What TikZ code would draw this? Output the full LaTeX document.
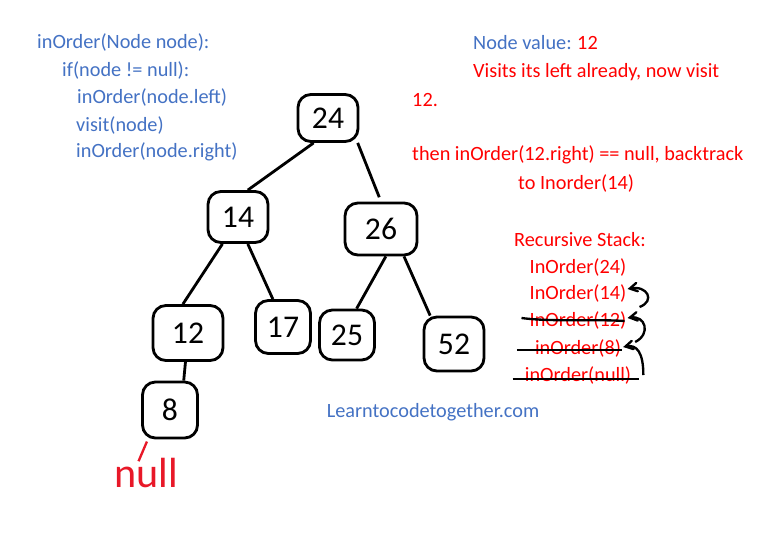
\documentclass[tikz,border=0pt]{standalone}
\usepackage{fontspec}
\setmainfont{Carlito}
\usetikzlibrary{arrows}
\definecolor{codeblue}{RGB}{68,114,196}
\definecolor{notered}{RGB}{255,0,0}
\definecolor{inkred}{RGB}{232,24,40}
\tikzstyle{treenode} = [draw,line width=2.4pt,rounded corners=11pt,inner sep=0pt,font=\fontsize{27}{27}\selectfont]
\tikzstyle{edge} = [line width=2.4pt]
\tikzstyle{code} = [anchor=west,inner sep=0pt,text=codeblue,font=\fontsize{17.3}{20}\selectfont]
\tikzstyle{note} = [anchor=west,inner sep=0pt,text=notered,font=\fontsize{17.3}{20}\selectfont]
\tikzstyle{stack} = [inner sep=0pt,text=notered,font=\fontsize{17.3}{20}\selectfont]
\tikzstyle{strike} = [line width=2pt]
\tikzstyle{back} = [line width=2pt,->,>=angle 60]

\begin{document}
\begin{tikzpicture}[x=0.03cm,y=-0.03cm]
        \fill[white] (0,0) rectangle (768,538);
        \useasboundingbox (0,0) rectangle (768,538);
        %pseudocode
        \node[code] (c1) at (37,42) {inOrder(Node node):};
        \node[code] (c2) at (62,70) {if(node != null):};
        \node[code] (c3) at (77,97) {inOrder(node.left)};
        \node[code] (c4) at (76,125) {visit(node)};
        \node[code] (c5) at (76,152) {inOrder(node.right)};
        %tree
        \node[treenode,minimum width=1.8cm,minimum height=1.41cm] (n24) at (328,118) {24};
        \node[treenode,minimum width=1.8cm,minimum height=1.53cm] (n14) at (238,217) {14};
        \node[treenode,minimum width=2.16cm,minimum height=1.56cm] (n26) at (381,229) {26};
        \node[treenode,minimum width=2.1cm,minimum height=1.65cm] (n12) at (188,333) {12};
        \node[treenode,minimum width=1.65cm,minimum height=1.59cm] (n17) at (283,327) {17};
        \node[treenode,minimum width=1.65cm,minimum height=1.5cm] (n25) at (347,335) {25};
        \node[treenode,minimum width=1.8cm,minimum height=1.62cm] (n52) at (454,344) {52};
        \node[treenode,minimum width=1.65cm,minimum height=1.68cm] (n8) at (170,410) {8};
        \node[inner sep=0pt,text=inkred,font=\fontsize{36}{36}\selectfont] (nul) at (146,473) {null};
        \draw[edge] (n24.-120) -- (n14.70);
        \draw[edge,shorten >=4pt] (n24.-40) -- (n26.90);
        \draw[edge] (n14.-120) -- (n12.100);
        \draw[edge] (n14.-70) -- (n17.110);
        \draw[edge] (n26.-80) -- (n25.70);
        \draw[edge] (n26.-50) -- (n52.130);
        \draw[edge] (n12.-95) -- (n8.65);
        \draw[inkred,line width=2pt,shorten <=2pt,shorten >=-3pt] (n8.-127) -- (nul.112);
        %notes
        \node[code] (nv) at (473,43) {Node value:};
        \node[note] (nv12) at (577,43) {12};
        \node[note] (t1) at (473,72) {Visits its left already, now visit};
        \node[note] (t2) at (412,100) {12.};
        \node[note] (t3) at (412,155) {then inOrder(12.right) == null, backtrack};
        \node[note] (t4) at (518,183) {to Inorder(14)};
        %stack
        \node[stack] (stitle) at (580,240) {Recursive Stack:};
        \node[stack] (s24) at (578,267) {InOrder(24)};
        \node[stack] (s14) at (578,293) {InOrder(14)};
        \node[stack] (s12) at (578,320) {InOrder(12)};
        \node[stack] (s8) at (578,348) {inOrder(8)};
        \node[stack] (snull) at (578,375) {inOrder(null)};
        \draw[strike] ([shift={(-8,-2)}]s12.west) .. controls +(30,4) and +(-30,-2) .. ([shift={(-2,1)}]s12.east);
        \draw[strike] ([shift={(-18,2)}]s8.west) -- ([shift={(1,2)}]s8.east);
        \draw[strike] ([shift={(-12,4)}]snull.west) -- ([shift={(8,4)}]snull.east);
        \draw[back] ([shift={(12,0)}]snull.east) .. controls +(0,-22) and +(14,-3) .. ([shift={(2,-1)}]s8.east);
        \draw[back] ([shift={(14,-6)}]s8.east) .. controls +(16,-8) and +(18,-3) .. ([shift={(1,-2)}]s12.east);
        \draw[back] ([shift={(13,-13)}]s12.east) .. controls +(16,-6) and +(20,-4) .. ([shift={(1,-4)}]s14.east);
        \node[code,anchor=center] (site) at (433,412) {Learntocodetogether.com};
    \end{tikzpicture}
\end{document}
